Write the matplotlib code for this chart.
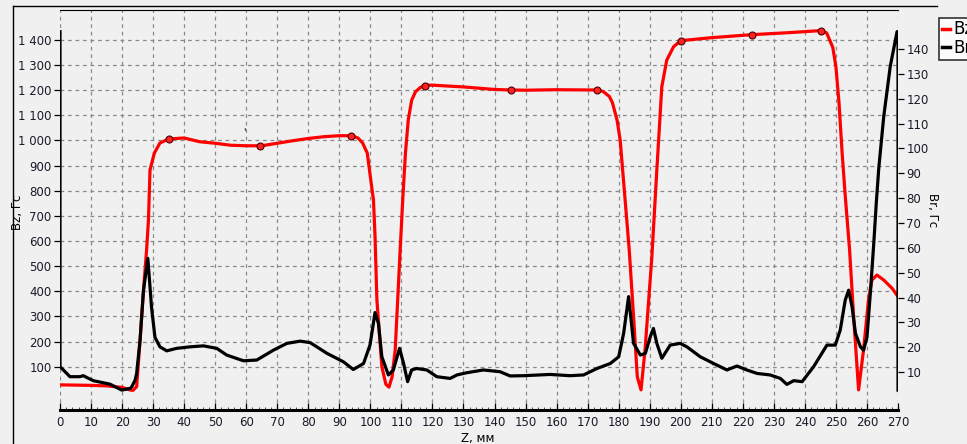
import matplotlib
matplotlib.use("Agg")
import matplotlib.pyplot as plt
from matplotlib.lines import Line2D
from matplotlib.ticker import MultipleLocator

# Bz along Z (left axis, Гс)
bz_z = [0, 5, 10, 15, 20, 22.5, 23.5, 24.7, 25.8, 26.9, 27.9, 28.5, 29.0, 30.4, 32.2, 35, 40, 45, 50,
        55, 60, 65, 70, 75, 80, 85, 90, 94, 96, 97.5, 99, 100, 101, 101.5, 102.1, 103.7, 105, 106, 107,
        108, 109.6, 110.5, 111.3, 112.2, 113.3, 114.5, 116, 117.6, 120, 130, 140, 145, 150, 160, 170,
        173, 175, 177, 178, 179.5, 180.5, 181.5, 182.5, 183.4, 184.8, 186, 187.2, 188.5, 190.7, 192.3,
        193.9, 195.5, 197.7, 200, 210, 223, 235, 245, 247, 249, 250, 251, 252, 253, 254.4, 255.7, 257.3,
        258.9, 260.5, 261.6, 263.2, 265.4, 268.1, 270]
bz_v = [28, 27, 26, 24, 18, 8, 6, 21, 207, 405, 565, 684, 883, 950, 990, 1006, 1010, 995, 989,
        981, 979, 979, 989, 999, 1008, 1015, 1019, 1019, 1010, 990, 950, 855, 763, 620, 366, 100, 30, 19, 60,
        167, 565, 780, 950, 1081, 1160, 1193, 1210, 1220, 1220, 1213, 1203, 1201, 1200, 1202, 1201,
        1201, 1195, 1175, 1150, 1080, 1000, 850, 700, 565, 300, 60, 8, 167, 538, 883,
        1214, 1320, 1373, 1397, 1409, 1421, 1429, 1437, 1428, 1370, 1293, 1149, 950, 780, 565, 300, 8,
        167, 366, 445, 465, 445, 412, 379]

# marked points on Bz
mk_z = [35, 64.5, 93.7, 117.6, 145.4, 173, 200.2, 223, 245.2]
mk_v = [1006, 979, 1019, 1215, 1201, 1201, 1397, 1421, 1437]

# Br along Z (right axis, Гс)
br_z = [0, 0, 1, 3.2, 6.4, 7.5, 10.7, 13, 16.1, 19.9, 22.6, 23.1, 24.2, 24.7, 25.8, 26.9, 28.3, 29.5,
        30.6, 32.2, 34.4, 37.6, 41.9, 46.2, 50.5, 53.7, 59.1, 63.4, 68.8, 73.1, 77.4, 80.6, 86, 91.3,
        94.5, 97.8, 99.9, 101.5, 102.6, 103.7, 105.8, 107.4, 109.4, 110.7, 112, 113.3, 114.9, 118.2,
        121.4, 125.7, 127.9, 131.1, 136.4, 141.8, 145, 149.3, 157.9, 164.4, 168.7, 173, 177.3, 180,
        181.6, 183.2, 184.8, 187, 188.6, 190.2, 191.2, 192.3, 193.9, 196.6, 199.8, 202, 206.3, 210.6,
        214.9, 218.1, 221.3, 224.6, 228.8, 232.1, 234.2, 236.4, 239.1, 242.8, 247.1, 249.8, 251.4, 253,
        254.1, 255.2, 256.3, 257.9, 258.9, 260, 261.1, 262.2, 263, 263.8, 265.4, 267.5, 269.7, 270, 270]
br_v = [147, 12.2, 11, 8.2, 8.2, 8.6, 6.6, 6, 5.2, 2.8, 3.5, 4.1, 6.8, 9.5, 23, 43, 55.8, 36,
        24, 20.2, 18.6, 19.6, 20.2, 20.6, 19.6, 16.9, 14.6, 14.9, 18.9, 21.6, 22.5, 21.9, 17.6, 14.2,
        11.1, 13.5, 21, 34, 29.6, 16.2, 8.9, 10.9, 19.6, 13.5, 6.2, 10.9, 11.5, 10.9,
        8.2, 7.5, 8.9, 9.8, 10.9, 10.2, 8.5, 8.6, 9.1, 8.6, 8.9, 11.5, 13.5, 16.2,
        25.6, 40.4, 21.6, 16.9, 17.6, 24.3, 27.6, 21.6, 15.6, 20.9, 21.6, 20.2, 16.2, 13.5,
        10.9, 12.5, 10.9, 9.5, 8.9, 7.5, 5.1, 6.6, 6.2, 12.2, 20.9, 20.9, 27, 39,
        43, 36.3, 25.6, 20.2, 18.9, 24, 42, 62, 78, 92, 112.8, 133, 147, 147, 2.8]

W, H = 967, 444
BG = "#f0f0f0"
fig = plt.figure(figsize=(W / 100, H / 100), dpi=100, facecolor=BG)
ax = fig.add_axes([60 / W, 34 / H, 838 / W, 400 / H], facecolor=BG)
ax2 = ax.twinx()

ax.plot(bz_z, bz_v, color="#ff0000", lw=2.3, solid_joinstyle="round", zorder=3)
ax.plot(mk_z, mk_v, "o", ms=5, mfc="#ff2020", mec="#500000", mew=0.8, zorder=4)
ax2.plot(br_z, br_v, color="black", lw=2.3, solid_joinstyle="round", zorder=3)
ax.text(59, 1020, "'", fontsize=7, color="black")

ax.set_xlim(0, 270)
ax.set_ylim(-72, 1519)
ax2.set_ylim(-5.2, 155.7)

ax.xaxis.set_major_locator(MultipleLocator(10))
ax.xaxis.set_minor_locator(MultipleLocator(2))
ax.set_yticks(range(100, 1401, 100))
ax.set_yticklabels([f"{v:,}".replace(",", " ") for v in range(100, 1401, 100)])
ax2.set_yticks(range(10, 141, 10))

tc = "#1a1a2a"
ax.tick_params(axis="x", which="major", direction="in", length=5, width=0.9, labelsize=8.5, colors="black",
               labelcolor=tc, pad=4)
ax.tick_params(axis="x", which="minor", direction="in", length=2.5, width=0.6, colors="#333333")
ax.tick_params(axis="y", direction="out", length=4, width=0.9, labelsize=8.5, labelcolor=tc, pad=2)
ax2.tick_params(axis="y", direction="out", length=4, width=0.9, labelsize=8.5, labelcolor=tc, pad=2)

ax.grid(True, which="major", color="#8a8a8a", ls=(0, (3, 3)), lw=0.9)
ax.set_axisbelow(True)

for s in ("left", "right"):
    ax.spines[s].set_visible(False)
for s in ("left", "right", "top", "bottom"):
    ax2.spines[s].set_visible(False)
ax.spines["top"].set_linewidth(0.8)
ax.spines["bottom"].set_linewidth(2.2)

fig.text(18 / W, 1 - 212 / H, "Bz, Гс", rotation=90, ha="center", va="center", fontsize=8.5, color="black")
fig.text(932 / W, 1 - 210 / H, "Br, Гс", rotation=270, ha="center", va="center", fontsize=8.5, color="black")
fig.text(478 / W, 1 - 438 / H, "Z, мм", ha="center", va="center", fontsize=8.5, color="black")

# outer frame
fig.add_artist(Line2D([13 / W, 13 / W], [0, 1 - 6 / H], transform=fig.transFigure, color="black", lw=1))
fig.add_artist(Line2D([13 / W, 937 / W], [1 - 6 / H, 1 - 6 / H], transform=fig.transFigure, color="black", lw=1))

handles = [Line2D([], [], color="#ff0000", lw=2.5), Line2D([], [], color="black", lw=2.5)]
leg = fig.legend(handles, ["Bz", "Br"], loc="upper left", bbox_to_anchor=(939 / W, 1 - 18 / H),
                 fontsize=12, handlelength=0.5, handletextpad=0.2, labelspacing=0.05,
                 borderpad=0.15, borderaxespad=0, frameon=True, fancybox=False)
leg.get_frame().set_edgecolor("black")
leg.get_frame().set_facecolor("white")
leg.get_frame().set_linewidth(1.2)

fig.savefig("out.png", dpi=100, facecolor=BG)
